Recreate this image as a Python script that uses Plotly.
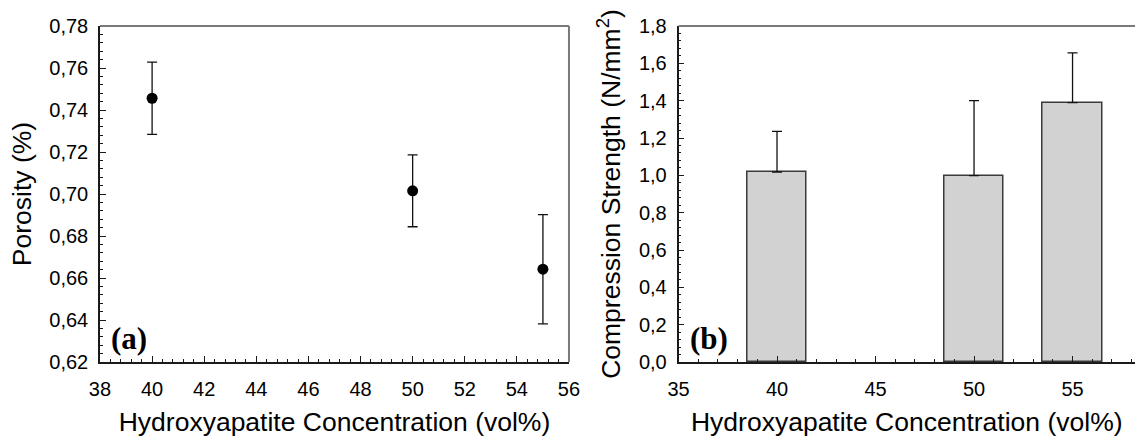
import plotly.graph_objects as go

# ---- data ----
ha_conc = [40, 50, 55]
porosity = [0.7456, 0.7015, 0.6642]
porosity_err = [0.0172, 0.0171, 0.0260]

strength = [1.018, 0.998, 1.390]
strength_err = [0.218, 0.402, 0.266]

x_title = "Hydroxyapatite Concentration (vol%)"
y_title_a = "Porosity (%)"
y_title_b = "Compression Strength (N/mm<sup>2</sup>)"

FONT = "Liberation Sans, Arial, sans-serif"

fig = go.Figure()

fig.add_trace(go.Scatter(
    x=ha_conc, y=porosity, mode="markers",
    marker=dict(color="black", size=11),
    error_y=dict(type="data", array=porosity_err, color="#111111", thickness=1.3, width=5),
    xaxis="x", yaxis="y", showlegend=False,
))

fig.add_trace(go.Bar(
    x=ha_conc, y=strength, width=3,
    marker=dict(color="#d2d2d2", line=dict(color="#3a3a3a", width=1.5)),
    error_y=dict(type="data", array=strength_err, arrayminus=[0, 0, 0], symmetric=False,
                 color="#111111", thickness=1.3, width=5),
    xaxis="x2", yaxis="y2", showlegend=False,
))

axis_common = dict(
    showgrid=False, zeroline=False, showline=True, linecolor="#1a1a1a", linewidth=1.5,
    ticks="inside", ticklen=6, tickwidth=1, tickcolor="#1a1a1a",
    tickfont=dict(family=FONT, size=20, color="black"),
    title_font=dict(family=FONT, size=26.5, color="black"),
    automargin=False,
)

fig.update_layout(
    width=1135, height=437,
    margin=dict(l=0, r=0, t=0, b=0, autoexpand=False),
    paper_bgcolor="white", plot_bgcolor="white",
    separators=",.",
    bargap=0,
    xaxis=dict(axis_common, domain=[0.0881, 0.5013], range=[38, 56], dtick=2, tick0=38,
               minor=dict(ticks="inside", dtick=0.4, ticklen=3, tickcolor="#1a1a1a"),
               anchor="y", ticklabelstandoff=8,
               title=dict(text=x_title, standoff=14)),
    yaxis=dict(axis_common, domain=[0.1716, 0.9405], range=[0.62, 0.78], dtick=0.02, tick0=0.62,
               tickformat=".2f",
               minor=dict(ticks="inside", dtick=0.004, ticklen=3, tickcolor="#1a1a1a"),
               anchor="x", ticklabelstandoff=6,
               title=dict(text=y_title_a, standoff=10)),
    xaxis2=dict(axis_common, domain=[0.5978, 1.0], range=[35, 58.17], dtick=5, tick0=35,
                minor=dict(ticks="inside", dtick=1, ticklen=3, tickcolor="#1a1a1a"),
                anchor="y2", ticklabelstandoff=8,
                title=dict(text=x_title, standoff=14)),
    yaxis2=dict(axis_common, domain=[0.1716, 0.9405], range=[0, 1.8], dtick=0.2, tick0=0,
                tickformat=".1f",
                minor=dict(ticks="inside", dtick=0.04, ticklen=3, tickcolor="#1a1a1a"),
                anchor="x2", ticklabelstandoff=6,
                title=dict(text=y_title_b, standoff=11)),
    shapes=[
        dict(type="line", xref="x domain", yref="y domain", x0=0, x1=1, y0=1, y1=1,
             line=dict(color="#7a7a7a", width=2)),
        dict(type="line", xref="x domain", yref="y domain", x0=1, x1=1, y0=0, y1=1,
             line=dict(color="#7a7a7a", width=2)),
        dict(type="line", xref="x2 domain", yref="y2 domain", x0=0, x1=1, y0=1, y1=1,
             line=dict(color="#7a7a7a", width=2)),
    ],
    annotations=[
        dict(text="<b>(a)</b>", xref="x domain", yref="y domain", x=0.02, y=0.012,
             xanchor="left", yanchor="bottom", showarrow=False,
             font=dict(family="Liberation Serif, Times New Roman, serif", size=31, color="black")),
        dict(text="<b>(b)</b>", xref="x2 domain", yref="y2 domain", x=0.02, y=0.012,
             xanchor="left", yanchor="bottom", showarrow=False,
             font=dict(family="Liberation Serif, Times New Roman, serif", size=31, color="black")),
    ],
)

fig.write_html("out.html",
               config={"displayModeBar": False},
               post_script="document.body.style.margin='0';document.body.style.overflow='hidden';")
